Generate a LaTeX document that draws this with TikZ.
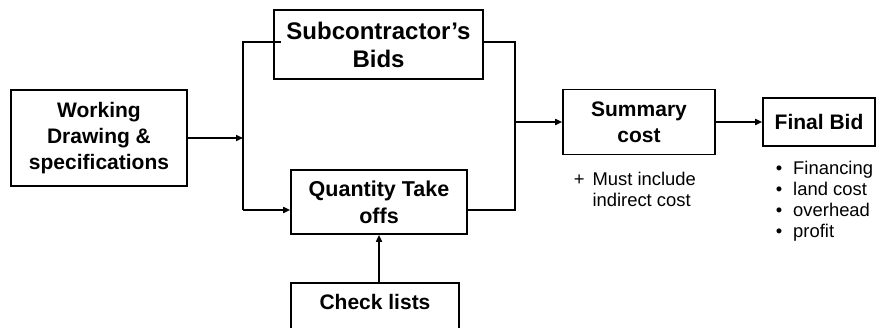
\documentclass[tikz,border=0pt]{standalone}
\usepackage{fontspec}
\setmainfont{Liberation Sans}
\usetikzlibrary{arrows.meta}

\begin{document}
\begin{tikzpicture}[x=1pt,y=-1pt,line width=1.6pt,
  box/.style={draw,rectangle,align=center,inner sep=2pt,font=\fontsize{21}{26}\selectfont\bfseries},
  note/.style={inner sep=0pt,font=\fontsize{18.4}{21}\selectfont},
  flow/.style={-{Triangle[length=7pt,width=6pt]}}]
\useasboundingbox (0,0) rectangle (877,328);
% boxes
\node[box,minimum width=176pt,minimum height=96pt] (work) at (99,138) {Working\\Drawing \&\\specifications};
\node[box,minimum width=209pt,minimum height=69pt,font=\fontsize{24}{28}\selectfont\bfseries] (sub) at (378.5,44.5) {Subcontractor's\\Bids};
\node[box,minimum width=176pt,minimum height=64pt,font=\fontsize{21.5}{27}\selectfont\bfseries] (qty) at (379,202) {Quantity Take\\offs};
\node[box,minimum width=168pt,minimum height=50pt,text depth=12pt,anchor=north] (check) at (375,282) {Check lists};
\node[box,minimum width=152pt,minimum height=65pt] (sum) at (639,122) {Summary\\cost};
\node[box,minimum width=112pt,minimum height=48pt] (final) at (819,122) {Final Bid};
% notes
\node[note,anchor=base west] (sumnote) at (573,185.5)
  {\begin{tabular}[t]{@{}l@{\hspace{8pt}}l@{}}+ & Must include\\ & indirect cost\end{tabular}};
\node[note,anchor=base west] (finalnote) at (775,174.5)
  {\begin{tabular}[t]{@{}l@{\hspace{11pt}}l@{}}\textbullet & Financing\\ \textbullet & land cost\\ \textbullet & overhead\\ \textbullet & profit\end{tabular}};
% junctions
\coordinate (jl) at (243,138);
\coordinate (jlt) at (243,42);
\coordinate (jlb) at (243,210);
\coordinate (jrt) at (515,42);
\coordinate (jrb) at (515,210);
% connectors
\draw[flow] (work.east |- jl) -- (jl);
\draw (jlb) -- (jlt) -- ([xshift=8pt]jlt -| sub.west);
\draw[flow] (jlb) -- (jlb -| qty.west);
\draw (jrt -| sub.east) -- (jrt) -- (jrb) -- (jrb -| qty.east);
\draw[flow] (jrt |- sum.west) -- (sum.west);
\draw[flow] (sum.east) -- (final.west);
\draw[flow] (qty.south |- check.north) -- (qty.south);
\end{tikzpicture}
\end{document}
